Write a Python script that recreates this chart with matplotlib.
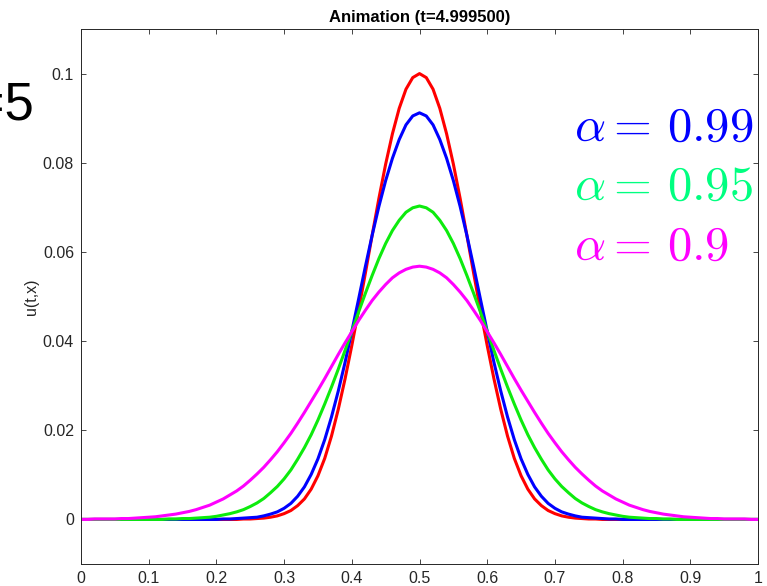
import numpy as np
import matplotlib
matplotlib.use("Agg")
import matplotlib.pyplot as plt

plt.rcParams['font.family'] = ['Liberation Sans', 'DejaVu Sans']
plt.rcParams['mathtext.fontset'] = 'cm'

# puntos de la malla (paso 0.01)
x = np.linspace(0, 1, 101)

# u(t,x) en t=4.9995
u_red = [0] * 24 + [
    0.0001, 0.0001, 0.0002, 0.0003, 0.0005, 0.0008, 0.0013, 0.0020, 0.0031,
    0.0046, 0.0068, 0.0098, 0.0137, 0.0187, 0.0247, 0.0315, 0.0390, 0.0469,
    0.0552, 0.0637, 0.0720, 0.0797, 0.0865, 0.0922, 0.0965, 0.0991, 0.1000,
    0.0991, 0.0965, 0.0922, 0.0865, 0.0797, 0.0720, 0.0637, 0.0552, 0.0469,
    0.0390, 0.0315, 0.0247, 0.0187, 0.0137, 0.0098, 0.0068, 0.0046, 0.0031,
    0.0020, 0.0013, 0.0008, 0.0005, 0.0003, 0.0002, 0.0001, 0.0001] + [0] * 24
u_blue = [0] * 21 + [
    0.0001, 0.0001, 0.0002, 0.0003, 0.0004, 0.0005, 0.0008, 0.0012, 0.0017,
    0.0025, 0.0036, 0.0052, 0.0073, 0.0101, 0.0136, 0.0179, 0.0230, 0.0288,
    0.0352, 0.0422, 0.0494, 0.0567, 0.0637, 0.0702, 0.0760, 0.0810, 0.0852,
    0.0885, 0.0905, 0.0912,
    0.0905, 0.0885, 0.0852, 0.0810, 0.0760, 0.0702, 0.0637, 0.0567, 0.0494,
    0.0422, 0.0352, 0.0288, 0.0230, 0.0179, 0.0136, 0.0101, 0.0073, 0.0052,
    0.0036, 0.0025, 0.0017, 0.0012, 0.0008, 0.0005, 0.0004, 0.0003, 0.0002,
    0.0001, 0.0001] + [0] * 21
u_green = [0] * 13 + [
    0.0001, 0.0001, 0.0002, 0.0002, 0.0003, 0.0004, 0.0005, 0.0007, 0.0010,
    0.0013, 0.0017, 0.0022, 0.0029, 0.0037, 0.0047, 0.0060, 0.0074, 0.0091,
    0.0111, 0.0135, 0.0161, 0.0190, 0.0223, 0.0259, 0.0297, 0.0337, 0.0379,
    0.0422, 0.0465, 0.0507, 0.0547, 0.0585, 0.0619, 0.0648, 0.0671, 0.0689,
    0.0699, 0.0703,
    0.0699, 0.0689, 0.0671, 0.0648, 0.0619, 0.0585, 0.0547, 0.0507, 0.0465,
    0.0422, 0.0379, 0.0337, 0.0297, 0.0259, 0.0223, 0.0190, 0.0161, 0.0135,
    0.0111, 0.0091, 0.0074, 0.0060, 0.0047, 0.0037, 0.0029, 0.0022, 0.0017,
    0.0013, 0.0010, 0.0007, 0.0005, 0.0004, 0.0003, 0.0002, 0.0002, 0.0001,
    0.0001] + [0] * 13
u_magenta = [
    0, 0, 0.0001, 0.0001, 0.0001, 0.0001, 0.0002, 0.0002, 0.0003, 0.0004,
    0.0005, 0.0006, 0.0008, 0.0010, 0.0012, 0.0015, 0.0018, 0.0022, 0.0027,
    0.0032, 0.0039, 0.0046, 0.0055, 0.0064, 0.0075, 0.0088, 0.0102, 0.0117,
    0.0134, 0.0152, 0.0172, 0.0193, 0.0216, 0.0240, 0.0265, 0.0290, 0.0316,
    0.0343, 0.0370, 0.0396, 0.0421, 0.0446, 0.0469, 0.0491, 0.0510, 0.0527,
    0.0542, 0.0553, 0.0561, 0.0566, 0.0568,
    0.0566, 0.0561, 0.0553, 0.0542, 0.0527, 0.0510, 0.0491, 0.0469, 0.0446,
    0.0421, 0.0396, 0.0370, 0.0343, 0.0316, 0.0290, 0.0265, 0.0240, 0.0216,
    0.0193, 0.0172, 0.0152, 0.0134, 0.0117, 0.0102, 0.0088, 0.0075, 0.0064,
    0.0055, 0.0046, 0.0039, 0.0032, 0.0027, 0.0022, 0.0018, 0.0015, 0.0012,
    0.0010, 0.0008, 0.0006, 0.0005, 0.0004, 0.0003, 0.0002, 0.0002, 0.0001,
    0.0001, 0.0001, 0.0001, 0, 0]

labels = [r'$\alpha =\, 0.99$', r'$\alpha =\, 0.95$', r'$\alpha =\, 0.9$']
xticks = [0, 0.1, 0.2, 0.3, 0.4, 0.5, 0.6, 0.7, 0.8, 0.9, 1]
xticklabels = ['0', '0.1', '0.2', '0.3', '0.4', '0.5', '0.6', '0.7', '0.8', '0.9', '1']
yticks = [0, 0.02, 0.04, 0.06, 0.08, 0.1]
yticklabels = ['0', '0.02', '0.04', '0.06', '0.08', '0.1']

gris = (0.15, 0.15, 0.15)

fig = plt.figure(figsize=(7.67, 5.86), dpi=100)
ax = fig.add_axes([0.1056, 0.0375, 0.8827, 0.913])

ax.plot(x, u_red, color=(1, 0, 0), lw=2.2)
ax.plot(x, u_blue, color=(0, 0, 1), lw=2.2)
ax.plot(x, u_green, color=(0.05, 0.92, 0.05), lw=2.2)
ax.plot(x, u_magenta, color=(1, 0, 1), lw=2.2)

ax.set_xlim(0, 1)
ax.set_ylim(-0.01, 0.11)
ax.set_xticks(xticks)
ax.set_xticklabels(xticklabels)
ax.set_yticks(yticks)
ax.set_yticklabels(yticklabels)
ax.tick_params(direction='in', length=3.5, width=0.6, colors=gris,
               labelsize=11.5, top=True, right=True, pad=5)
for s in ax.spines.values():
    s.set_color(gris)
    s.set_linewidth(0.7)

ax.set_title('Animation (t=4.999500)', fontsize=12, fontweight='bold', pad=5)
ax.set_ylabel('u(t,x)', fontsize=11.5, color=gris, labelpad=3)

# etiquetas de las curvas
colores_txt = [(0, 0, 1), (0, 1, 0.5), (1, 0, 1)]
y_txt = [0.0850, 0.0716, 0.0582]
for lab, c, yy in zip(labels, colores_txt, y_txt):
    ax.text(0.728, yy, lab, color=c, fontsize=35, va='baseline', ha='left')

# texto cortado a la izquierda
fig.text(34 / 767, 1 - 106 / 586, 't=5', fontsize=38, ha='right', va='center',
         color='black')

fig.savefig('out.png', dpi=100)
